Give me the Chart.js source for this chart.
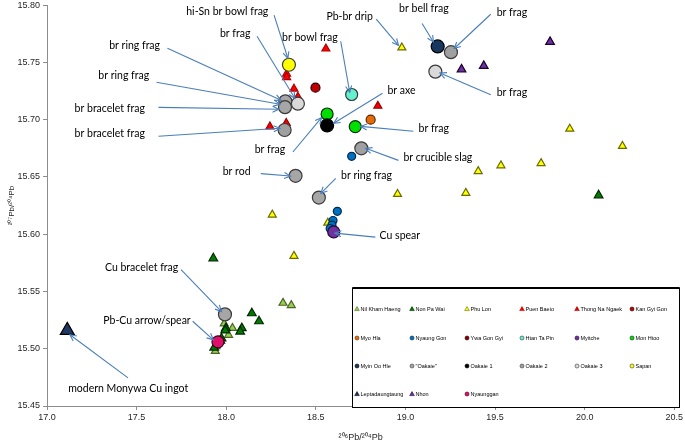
<!DOCTYPE html>
<html>
<head>
<meta charset="utf-8">
<script src="https://cdn.jsdelivr.net/npm/chart.js@4.4.1/dist/chart.umd.min.js"></script>
<style>
  html, body { margin: 0; padding: 0; background: #ffffff; overflow: hidden; }
  #c { display: block; margin-top: -4px; }
</style>
</head>
<body>
<canvas id="c" width="685" height="448" style="width:685px;height:448px"></canvas>
<script>
// ---------- DATA ----------
const seriesNames = ['Nil Kham Haeng', 'Non Pa Wai', 'Phu Lon', 'Puen Baeio', 'Thong Na Ngaek', 'Kan Gyi Gon',
  'Myo Hla', 'Nyaung Gon', 'Ywa Gon Gyi', 'Htan Ta Pin', 'Myitche', 'Mon Htoo',
  'Myin Oo Hle', '"Oakaie"', 'Oakaie 1', 'Oakaie 2', 'Oakaie 3', 'Sapan',
  'Leptadaungtaung', 'Nhon', 'Nyaunggan'];

// [206Pb/204Pb, 207Pb/204Pb]
const nilKhamHaeng = [[18.317, 15.540], [18.363, 15.538], [18.035, 15.518], [18.013, 15.512], [17.989, 15.522], [17.943, 15.502], [17.939, 15.498]];
const nonPaWai = [[20.078, 15.634], [17.928, 15.579], [18.143, 15.531], [18.183, 15.524], [18.087, 15.518], [18.078, 15.515], [17.998, 15.518], [17.994, 15.516], [17.974, 15.509], [17.967, 15.507], [17.933, 15.501]];
const phuLon = [[18.980, 15.763], [18.956, 15.635], [18.257, 15.617], [18.378, 15.581], [18.567, 15.610], [19.917, 15.692], [20.211, 15.677], [19.406, 15.655], [19.533, 15.660], [19.757, 15.662], [19.337, 15.636]];
const puenBaeio = [[18.556, 15.762], [18.337, 15.740], [18.337, 15.737], [18.378, 15.727], [18.400, 15.720]];
const thongNaNgaek = [[18.846, 15.712], [18.244, 15.694], [18.335, 15.697]];
const kanGyiGon = [[18.498, 15.728]];
const myoHla = [[18.806, 15.700]];
const nyaungGon = [[18.700, 15.668], [18.620, 15.620], [18.596, 15.612], [18.590, 15.608], [18.580, 15.605]];
const ywaGonGyi = [];
const htanTaPin = [[18.700, 15.722]];
const myitche = [[18.600, 15.602]];
const monHtoo = [[18.563, 15.705], [18.720, 15.694]];
const myinOoHle = [[19.180, 15.764]];
const oakaie = [[18.330, 15.716], [18.328, 15.711], [18.387, 15.651], [18.517, 15.632], [17.993, 15.530]];
const oakaie1 = [[18.563, 15.695]];
const oakaie2 = [[19.254, 15.759], [18.754, 15.675], [18.326, 15.691]];
const oakaie3 = [[18.400, 15.714], [19.167, 15.742]];
const sapan = [[18.350, 15.748]];
const leptadaungtaung = [[17.113, 15.516]];
const nhon = [[19.313, 15.744], [19.437, 15.747], [19.807, 15.768]];
const nyaunggan = [[17.954, 15.506]];

const seriesData = [nilKhamHaeng, nonPaWai, phuLon, puenBaeio, thongNaNgaek, kanGyiGon, myoHla, nyaungGon, ywaGonGyi,
  htanTaPin, myitche, monHtoo, myinOoHle, oakaie, oakaie1, oakaie2, oakaie3, sapan, leptadaungtaung, nhon, nyaunggan];

const xTicks = [17.0, 17.5, 18.0, 18.5, 19.0, 19.5, 20.0, 20.5];
const yTicks = [15.45, 15.50, 15.55, 15.60, 15.65, 15.70, 15.75, 15.80];
const xTitle = '²⁰⁶Pb/²⁰⁴Pb';
const yTitle = '²⁰⁷Pb/²⁰⁴Pb';

// annotation labels: text anchor and arrow (tail -> head), in data units
const noteTexts = ['hi-Sn br bowl frag', 'br frag', 'br ring frag', 'br ring frag', 'br bracelet frag', 'br bracelet frag',
  'br frag', 'br rod', 'br ring frag', 'br bowl frag', 'br axe', 'br frag', 'br crucible slag', 'Pb-br drip',
  'br bell frag', 'br frag', 'br frag', 'Cu spear', 'Cu bracelet frag', 'Pb-Cu arrow/spear', 'modern Monywa Cu ingot'];
const noteAnchors = [[18.006, 15.7948], [18.050, 15.7755], [17.489, 15.7650], [17.428, 15.7388], [17.350, 15.7100], [17.350, 15.6881],
  [18.244, 15.6741], [18.058, 15.6549], [18.783, 15.6514], [18.467, 15.7720], [18.978, 15.7257], [19.158, 15.6922], [19.181, 15.6671], [18.689, 15.7904],
  [19.103, 15.7971], [19.594, 15.7939], [19.594, 15.7237], [18.969, 15.5990], [17.528, 15.5710], [17.558, 15.5247], [17.453, 15.4655]];
const noteArrows = [
  [18.267, 15.7913, 18.344, 15.7537], [18.172, 15.7729, 18.383, 15.7187], [17.672, 15.7624, 18.306, 15.7170], [17.611, 15.7327, 18.300, 15.7135],
  [17.622, 15.7108, 18.294, 15.7091], [17.622, 15.6855, 18.300, 15.6925], [18.372, 15.6718, 18.532, 15.7018], [18.193, 15.6529, 18.359, 15.6508],
  [18.611, 15.6488, 18.528, 15.6357], [18.639, 15.7685, 18.689, 15.7240], [18.872, 15.7231, 18.600, 15.6969], [19.044, 15.6899, 18.750, 15.6942],
  [18.961, 15.6645, 18.778, 15.6750], [18.837, 15.7878, 18.961, 15.7650], [19.093, 15.7840, 19.156, 15.7679], [19.476, 15.7921, 19.272, 15.7622],
  [19.476, 15.7219, 19.193, 15.7408], [18.832, 15.5975, 18.606, 15.6010], [17.748, 15.5690, 17.974, 15.5325], [17.813, 15.5240, 17.928, 15.5078],
  [17.452, 15.4746, 17.128, 15.5122]];

// ---------- STYLES ----------
const seriesStyle = [
  { shape: 'triangle', fill: '#92d050', stroke: '#4f6228', r: 4.6 },
  { shape: 'triangle', fill: '#007a00', stroke: '#002800', r: 5 },
  { shape: 'triangle', fill: '#ffff00', stroke: '#6b6b00', r: 4.6 },
  { shape: 'triangle', fill: '#ff0000', stroke: '#b00000', r: 4.6 },
  { shape: 'triangle', fill: '#f00000', stroke: '#a00000', r: 4.6 },
  { shape: 'circle', fill: '#c00000', stroke: '#300000', r: 4.5 },
  { shape: 'circle', fill: '#e46c0a', stroke: '#5a2a00', r: 4.5 },
  { shape: 'circle', fill: '#0070c0', stroke: '#002a50', r: 4 },
  { shape: 'circle', fill: '#800000', stroke: '#300000', r: 4 },
  { shape: 'circle', fill: '#66f0cc', stroke: '#2a3a3a', r: 6 },
  { shape: 'circle', fill: '#7030a0', stroke: '#200a30', r: 6 },
  { shape: 'circle', fill: '#00e000', stroke: '#0a300a', r: 6 },
  { shape: 'circle', fill: '#17375e', stroke: '#000000', r: 6.5 },
  { shape: 'circle', fill: '#a6a6a6', stroke: '#3a3a3a', r: 6.5 },
  { shape: 'circle', fill: '#000000', stroke: '#000000', r: 6.5 },
  { shape: 'circle', fill: '#a0a0a0', stroke: '#3a3a3a', r: 6.5 },
  { shape: 'circle', fill: '#d9d9d9', stroke: '#3a3a3a', r: 6.5 },
  { shape: 'circle', fill: '#ffff00', stroke: '#3a3a3a', r: 6.5 },
  { shape: 'triangle', fill: '#1f3864', stroke: '#000000', r: 8 },
  { shape: 'triangle', fill: '#7030a0', stroke: '#1a0030', r: 5 },
  { shape: 'circle', fill: '#e0106a', stroke: '#3a0018', r: 6 }
];

const datasets = seriesNames.map((name, i) => ({
  label: name,
  data: seriesData[i].map(p => ({ x: p[0], y: p[1] })),
  pointStyle: seriesStyle[i].shape,
  pointRadius: seriesStyle[i].r,
  pointBackgroundColor: seriesStyle[i].fill,
  pointBorderColor: seriesStyle[i].stroke,
  pointBorderWidth: 1.2,
  backgroundColor: seriesStyle[i].fill,
  borderColor: seriesStyle[i].stroke,
  showLine: false,
  order: -i
}));

const annotationPlugin = {
  id: 'notes',
  afterDatasetsDraw(chart) {
    const ctx = chart.ctx, xs = chart.scales.x, ys = chart.scales.y;
    ctx.save();
    ctx.strokeStyle = '#4a7ebb';
    ctx.lineWidth = 1.1;
    noteArrows.forEach(a => {
      const x0 = xs.getPixelForValue(a[0]), y0 = ys.getPixelForValue(a[1]);
      const x1 = xs.getPixelForValue(a[2]), y1 = ys.getPixelForValue(a[3]);
      ctx.beginPath(); ctx.moveTo(x0, y0); ctx.lineTo(x1, y1); ctx.stroke();
      const ang = Math.atan2(y1 - y0, x1 - x0), L = 7, s = 0.45;
      ctx.beginPath();
      ctx.moveTo(x1 - L * Math.cos(ang - s), y1 - L * Math.sin(ang - s));
      ctx.lineTo(x1, y1);
      ctx.lineTo(x1 - L * Math.cos(ang + s), y1 - L * Math.sin(ang + s));
      ctx.stroke();
    });
    ctx.fillStyle = '#000000';
    ctx.font = '10.5px Lato';
    ctx.textAlign = 'center';
    ctx.textBaseline = 'middle';
    noteTexts.forEach((t, i) => {
      ctx.fillText(t, xs.getPixelForValue(noteAnchors[i][0]), ys.getPixelForValue(noteAnchors[i][1]));
    });
    ctx.restore();
  }
};

const boxLegendPlugin = {
  id: 'boxLegend',
  afterDraw(chart) {
    const ctx = chart.ctx;
    const off = 4; // canvas is shifted up by 4px on the page
    const left = 352.5, top = 288 + off, right = 679.5, bottom = 407.5 + off;
    ctx.save();
    ctx.fillStyle = '#ffffff';
    ctx.fillRect(left, top, right - left, bottom - top);
    ctx.strokeStyle = '#000000';
    ctx.lineWidth = 1;
    ctx.strokeRect(left, top, right - left, bottom - top);
    ctx.lineWidth = 2;
    ctx.beginPath(); ctx.moveTo(left, top); ctx.lineTo(right, top); ctx.stroke();
    const colX = [357, 412, 467, 522, 577, 632];
    const rowY = [309, 338, 366, 394].map(v => v + off);
    ctx.font = '5.5px "Liberation Sans"';
    ctx.textBaseline = 'middle';
    ctx.textAlign = 'left';
    chart.data.datasets.forEach((ds, i) => {
      const cx = colX[i % 6], cy = rowY[Math.floor(i / 6)];
      ctx.fillStyle = ds.pointBackgroundColor;
      ctx.strokeStyle = ds.pointBorderColor;
      ctx.lineWidth = 0.6;
      ctx.beginPath();
      if (ds.pointStyle === 'triangle') {
        ctx.moveTo(cx, cy - 2.4); ctx.lineTo(cx + 2.3, cy + 1.6); ctx.lineTo(cx - 2.3, cy + 1.6); ctx.closePath();
      } else {
        ctx.arc(cx, cy, 2, 0, Math.PI * 2);
      }
      ctx.fill(); ctx.stroke();
      ctx.fillStyle = '#000000';
      ctx.fillText(ds.label, cx + 3.5, cy);
    });
    ctx.restore();
  }
};

const axisColor = '#8c8c8c';
new Chart(document.getElementById('c'), {
  type: 'scatter',
  data: { datasets },
  options: {
    responsive: false,
    devicePixelRatio: 1,
    animation: false,
    layout: { padding: { top: 0, right: 9, left: 0, bottom: 0 } },
    plugins: { legend: { display: false }, tooltip: { enabled: false } },
    scales: {
      x: {
        type: 'linear', min: xTicks[0], max: xTicks[xTicks.length - 1],
        afterBuildTicks(s) { s.ticks = xTicks.map(v => ({ value: v })); },
        afterFit(s) { s.height = 38; },
        ticks: { callback: v => Number(v).toFixed(1), font: { family: 'Liberation Sans', size: 9 }, color: '#262626', padding: 2, maxRotation: 0 },
        grid: { drawOnChartArea: false, drawTicks: true, tickLength: 4, color: axisColor },
        border: { color: axisColor, width: 1 },
        title: { display: true, text: xTitle, font: { family: 'Liberation Sans', size: 9 }, color: '#262626', padding: { top: 0, bottom: 1 } }
      },
      y: {
        type: 'linear', min: yTicks[0], max: yTicks[yTicks.length - 1],
        afterBuildTicks(s) { s.ticks = yTicks.map(v => ({ value: v })); },
        afterFit(s) { s.width = 47; },
        ticks: { callback: v => Number(v).toFixed(2), font: { family: 'Liberation Sans', size: 9 }, color: '#262626', padding: 3 },
        grid: { drawOnChartArea: false, drawTicks: true, tickLength: 4, color: axisColor },
        border: { color: axisColor, width: 1 },
        title: { display: true, text: yTitle, font: { family: 'Liberation Sans', size: 8 }, color: '#262626', padding: { top: 7, bottom: 0 } }
      }
    }
  },
  plugins: [annotationPlugin, boxLegendPlugin]
});
</script>
</body>
</html>
